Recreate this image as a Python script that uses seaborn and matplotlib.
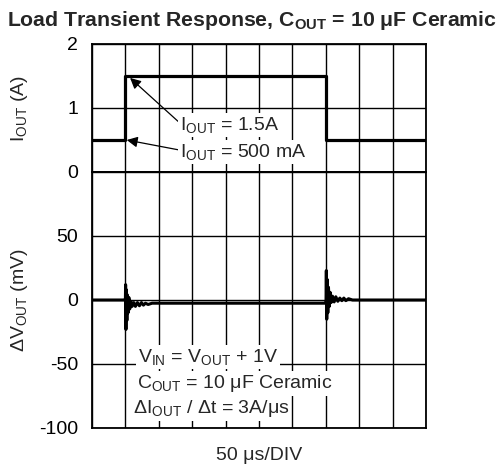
import numpy as np
import pandas as pd
import matplotlib
matplotlib.use("Agg")
import matplotlib.pyplot as plt
import seaborn as sns

# ---- data (time in microseconds) ----
i_time = [0, 50, 50, 350, 350, 500]
i_out = [0.5, 0.5, 1.5, 1.5, 0.5, 0.5]

v_time = [0, 49.5, 50, 50.3, 50.8, 51.4, 52.2, 53.0, 54.0, 55.2, 56.5, 58, 60, 62.5, 65, 68, 71, 74,
          77, 80, 84, 90, 349.5, 350, 350.3, 350.8, 351.4, 352.2, 353.0, 354.0, 355.2, 356.5,
          358, 360, 362.5, 365, 368, 371, 374, 377, 380, 384, 390, 500]
v_out = [0, 0, 0, 12, -23, 8, -16, 4, -10, 2, -7, -1, -5, -2, -5, -2, -4.5, -2, -4, -2.5, -3.5, -2.5,
         -2.5, -2.5, -2.5, 23, -15, 16, -10, 10, -5, 6, -2, 3, -1.5, 2.5, -1, 1.5, -0.5, 1.5, -0.5, 1,
         0, 0]

x_ticks = list(range(0, 501, 50))
i_ticks = [0, 1, 2]
v_ticks = [-100, -50, 0, 50, 100]
v_tick_labels = ["-100", "-50", "0", "50", ""]

sns.set_style("white")
plt.rcParams["font.family"] = ["Liberation Sans", "DejaVu Sans"]
plt.rcParams["mathtext.default"] = "regular"

W, H = 501, 466
fig = plt.figure(figsize=(W / 100, H / 100), dpi=100)

L, R = 92 / W, 426 / W
y_top, y_mid, y_bot = 1 - 44 / H, 1 - 172 / H, 1 - 428 / H
ax1 = fig.add_axes([L, y_mid, R - L, y_top - y_mid])
ax2 = fig.add_axes([L, y_bot, R - L, y_mid - y_bot])

df_i = pd.DataFrame({"t": i_time, "i": i_out})
df_v = pd.DataFrame({"t": v_time, "v": v_out})

sns.lineplot(data=df_i, x="t", y="i", ax=ax1, sort=False, estimator=None,
             color="black", linewidth=2.3, zorder=5)
sns.lineplot(data=df_v, x="t", y="v", ax=ax2, sort=False, estimator=None,
             color="black", linewidth=2.2, zorder=5)

fs = 14
for ax in (ax1, ax2):
    ax.set_xlim(0, 500)
    ax.set_xticks(x_ticks)
    ax.set_xticklabels([])
    ax.grid(True, color="black", linewidth=1.0)
    ax.set_axisbelow(True)
    ax.tick_params(length=0, pad=10, labelsize=fs, colors="black")
    ax.set_xlabel("")
    ax.set_ylabel("")
    for s in ax.spines.values():
        s.set_color("black")
        s.set_linewidth(1.3)

ax1.set_ylim(0, 2)
ax1.set_yticks(i_ticks)
ax1.set_yticklabels([str(v) for v in i_ticks])
ax2.set_ylim(-100, 100)
ax2.set_yticks(v_ticks)
ax2.set_yticklabels(v_tick_labels)

box = dict(facecolor="white", edgecolor="none", pad=1.5)
ax1.annotate(r"I$_{OUT}$ = 1.5A", xy=(57, 1.47), xytext=(132, 0.73),
             fontsize=fs, ha="left", va="center", bbox=box, zorder=6,
             arrowprops=dict(arrowstyle="-|>", color="black", lw=0.9,
                             mutation_scale=16, shrinkA=0, shrinkB=0,
                             relpos=(0, 0.6)))
ax1.annotate(r"I$_{OUT}$ = 500 mA", xy=(52, 0.5), xytext=(132, 0.31),
             fontsize=fs, ha="left", va="center", bbox=box, zorder=6,
             arrowprops=dict(arrowstyle="-|>", color="black", lw=0.9,
                             mutation_scale=16, shrinkA=0, shrinkB=0,
                             relpos=(0, 0.6)))

ax2.text(69, -44.5, r"V$_{IN}$ = V$_{OUT}$ + 1V", fontsize=fs, ha="left", va="center",
         bbox=box, zorder=6)
ax2.text(67, -65, r"C$_{OUT}$ = 10 μF Ceramic", fontsize=fs, ha="left", va="center",
         bbox=box, zorder=6)
ax2.text(61, -85, r"ΔI$_{OUT}$ / Δt = 3A/μs", fontsize=fs, ha="left", va="center",
         bbox=box, zorder=6)

fig.text(252 / W, 1 - 20 / H, r"Load Transient Response, C$_{OUT}$ = 10 μF Ceramic",
         fontsize=15.3, fontweight="bold", ha="center", va="center")
fig.text(20 / W, 1 - 108 / H, r"I$_{OUT}$ (A)", fontsize=fs, rotation=90,
         ha="center", va="center")
fig.text(20 / W, 1 - 300 / H, r"ΔV$_{OUT}$ (mV)", fontsize=fs, rotation=90,
         ha="center", va="center")
fig.text(259 / W, 1 - 455 / H, "50 μs/DIV", fontsize=fs, ha="center", va="center")

fig.savefig("out.png", dpi=100, facecolor="white")
